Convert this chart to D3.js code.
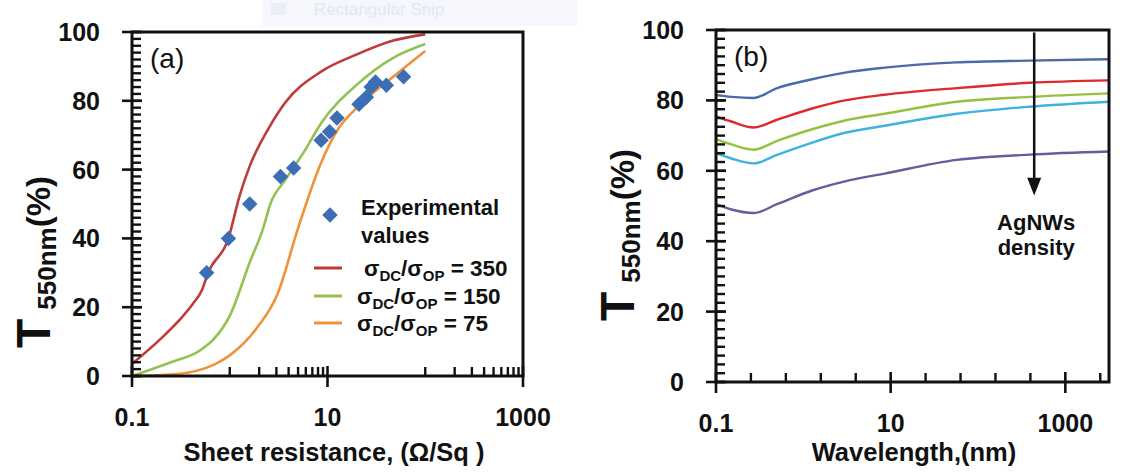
<!DOCTYPE html>
<html>
<head>
<meta charset="utf-8">
<script src="https://cdn.jsdelivr.net/npm/d3@7"></script>
<style>
  body { margin: 0; background: #fff; }
  svg { display: block; }
  text { font-family: "Liberation Sans", Arial, sans-serif; fill: #111; }
</style>
</head>
<body>
<div id="chart"></div>
<script>
// ---- panel (a): transmittance vs sheet resistance ----
const expResistance = [0.58, 0.97, 1.6, 3.3, 4.5, 8.6, 10.5, 12.5, 21, 25, 28, 31, 40, 60];
const expTransmit   = [30, 40, 50, 58, 60.5, 68.5, 71, 75, 79, 81, 84, 85.5, 84.5, 87];

const fit350Resistance = [0.1, 0.2, 0.3, 0.42, 0.52, 0.6, 0.97, 1.25, 1.6, 2.5, 3.7, 8.6, 20, 47, 100];
const fit350Transmit   = [3.5, 11, 16, 21, 25, 30, 40, 52, 61, 72, 79.5, 88.5, 93.5, 97.5, 99.3];
const fit150Resistance = [0.1, 0.25, 0.5, 0.7, 1, 1.6, 2.2, 2.6, 3.7, 5.7, 8.6, 20, 47, 100];
const fit150Transmit   = [0, 4, 7.5, 11, 17.5, 33, 43, 50, 57, 65, 73.5, 84.7, 92.5, 96.5];
const fit75Resistance  = [0.1, 0.27, 0.7, 1, 1.9, 3.1, 5, 8.6, 13, 20, 47, 100];
const fit75Transmit    = [0, 0.5, 3.4, 6, 14, 24, 43, 62, 72, 78, 87, 94.5];

// ---- panel (b): transmittance spectra, one per AgNW density ----
const wavelengths = [0.1, 0.15, 0.27, 0.5, 1.26, 3, 8.5, 57, 389, 3162];
const specBlue    = [81.5, 81, 80.7, 83.5, 86, 87.9, 89.3, 90.8, 91.3, 91.7];
const specRed     = [75.5, 74, 72.3, 74.5, 77.7, 80, 81.6, 83.5, 85, 85.7];
const specGreen   = [69, 67.5, 66, 68.5, 71.8, 74.3, 76.2, 79.6, 81, 82];
const specCyan    = [65, 63.5, 62.1, 64.5, 68, 70.8, 72.8, 76.2, 78.2, 79.6];
const specPurple  = [50.5, 49, 48, 50.5, 54.4, 57, 59.2, 63.1, 64.6, 65.5];

// ---- ticks ----
const yMajorTicks = [0, 20, 40, 60, 80, 100];
const xMajorTicks = [0.1, 10, 1000];
const xTickLabels = ['0.1', '10', '1000'];
const xMinorTicksA = [1, 2, 3, 4, 5, 6, 7, 8, 9, 100, 200, 300, 400, 500, 600, 700, 800, 900];
const xMinorTicksB = [0.251, 0.631, 1.585, 3.981, 25.12, 63.1, 158.5, 398.1, 2512];

const W = 1126, H = 473;
const svg = d3.select('#chart').append('svg').attr('width', W).attr('height', H);

// faint screen-capture tooltip left in the original image
svg.append('rect').attr('x', 262).attr('y', 0).attr('width', 315).attr('height', 26).attr('fill', '#f5f7fc');
svg.append('rect').attr('x', 271).attr('y', 3).attr('width', 15).attr('height', 12).attr('fill', '#eaeef6');
svg.append('text').attr('x', 314).attr('y', 15).style('font-size', '17px').style('fill', '#e3e7ef').text('Rectangular Snip');

function zip(xs, ys) { return xs.map((x, i) => [x, ys[i]]); }

// one <line> per tick
function tickLines(g, data, fn, width) {
  const tg = g.append('g');
  data.forEach(d => {
    const [x1, y1, x2, y2] = fn(d);
    tg.append('line')
      .attr('x1', x1).attr('y1', y1).attr('x2', x2).attr('y2', y2)
      .attr('stroke', '#111').attr('stroke-width', width);
  });
}

function drawFrame(g, x, y, cfg) {
  const [l, r] = x.range();
  const [b, t] = y.range();
  g.append('path')
    .attr('d', `M${l},${b}L${l},${t}L${r},${t}L${r},${b}Z`)
    .attr('fill', 'none').attr('stroke', '#111').attr('stroke-width', 3);

  // y ticks
  tickLines(g, cfg.yMinor, d => [l, y(d), l + 9, y(d)], 2.4);
  tickLines(g, yMajorTicks, d => [l - 10, y(d), l + 10, y(d)], 2.6);
  g.append('g').selectAll('text').data(yMajorTicks).join('text')
    .attr('x', l - 32).attr('y', d => y(d)).attr('dy', '0.36em')
    .attr('text-anchor', 'end')
    .style('font-size', '25px').style('font-weight', 'bold')
    .text(d => d);

  // x ticks
  tickLines(g, cfg.xMinor, d => [x(d), b, x(d), b - 9], 2.4);
  tickLines(g, xMajorTicks, d => [x(d), b - 10, x(d), b + 11], 2.6);
  g.append('g').selectAll('text').data(xMajorTicks).join('text')
    .attr('x', d => x(d)).attr('y', b + 50)
    .attr('text-anchor', 'middle')
    .style('font-size', '25px').style('font-weight', 'bold')
    .text((d, i) => xTickLabels[i]);

  // axis title
  g.append('text').attr('x', cfg.titleX).attr('y', 461)
    .attr('text-anchor', 'middle')
    .style('font-size', '25.5px').style('font-weight', 'bold')
    .text(cfg.xTitle);

  // y title: T 550nm (%)
  const yt = g.append('text')
    .attr('transform', `translate(${cfg.yTitleX},${cfg.yTitleY}) rotate(-90)`)
    .attr('text-anchor', 'middle').style('font-weight', 'bold');
  yt.append('tspan').style('font-size', '48px').text('T');
  yt.append('tspan').attr('dx', 9).attr('dy', 6).style('font-size', '26px').text('550nm');
  yt.append('tspan').attr('dy', -6).style('font-size', '33px').text('(%)');

  // panel letter
  g.append('text').attr('x', l + 18).attr('y', t + 36)
    .style('font-size', '28px').text(cfg.letter);
}

const line = (x, y) => d3.line().x(d => x(d[0])).y(d => y(d[1])).curve(d3.curveMonotoneX);

// ---------- panel (a) ----------
const xA = d3.scaleLog().domain([0.1, 1000]).range([132, 523]);
const yA = d3.scaleLinear().domain([0, 100]).range([376, 32]);
const gA = svg.append('g');

const fitsA = [
  { pts: zip(fit350Resistance, fit350Transmit), color: '#bf3a3a', label: '350', ly: 268 },
  { pts: zip(fit150Resistance, fit150Transmit), color: '#93c153', label: '150', ly: 296 },
  { pts: zip(fit75Resistance, fit75Transmit), color: '#f0923b', label: '75', ly: 323 }
];
gA.append('g').selectAll('path').data(fitsA).join('path')
  .attr('d', d => line(xA, yA)(d.pts))
  .attr('fill', 'none').attr('stroke', d => d.color).attr('stroke-width', 2.6);

const diamond = d3.symbol(d3.symbolSquare, 120);
gA.append('g').selectAll('path').data(zip(expResistance, expTransmit)).join('path')
  .attr('d', diamond)
  .attr('transform', d => `translate(${xA(d[0])},${yA(d[1])}) rotate(45)`)
  .attr('fill', '#3d6eb5');

drawFrame(gA, xA, yA, {
  yMinor: d3.range(0, 101, 2), xMinor: xMinorTicksA,
  xTitle: 'Sheet resistance, (\u03A9/Sq )', titleX: 334,
  yTitleX: 50, yTitleY: 262, letter: '(a)'
});

// legend (a)
gA.append('path').attr('d', diamond).attr('transform', 'translate(330,215) rotate(45)').attr('fill', '#3d6eb5');
gA.append('text').attr('x', 361).attr('y', 215).style('font-size', '22px').style('font-weight', 'bold').text('Experimental');
gA.append('text').attr('x', 361).attr('y', 243).style('font-size', '22px').style('font-weight', 'bold').text('values');
fitsA.forEach((f, i) => {
  gA.append('line').attr('x1', 314).attr('x2', 342).attr('y1', f.ly).attr('y2', f.ly)
    .attr('stroke', f.color).attr('stroke-width', 3);
  const t = gA.append('text').attr('x', i === 0 ? 364 : 357).attr('y', f.ly + 8)
    .style('font-size', '22.5px').style('font-weight', 'bold');
  t.append('tspan').text('\u03C3');
  t.append('tspan').attr('dy', 5).style('font-size', '15px').text('DC');
  t.append('tspan').attr('dy', -5).text('/\u03C3');
  t.append('tspan').attr('dy', 5).style('font-size', '15px').text('OP');
  t.append('tspan').attr('dy', -5).text(' = ' + f.label);
});

// ---------- panel (b) ----------
const xB = d3.scaleLog().domain([0.1, Math.pow(10, 3.5)]).range([716, 1109]);
const yB = d3.scaleLinear().domain([0, 100]).range([382, 30]);
const gB = svg.append('g');

const spectra = [
  { vals: specBlue, color: '#4a6aa8' },
  { vals: specRed, color: '#de2a2c' },
  { vals: specGreen, color: '#96c140' },
  { vals: specCyan, color: '#3db3dd' },
  { vals: specPurple, color: '#6a5b9c' }
];
gB.append('g').selectAll('path').data(spectra).join('path')
  .attr('d', d => line(xB, yB)(zip(wavelengths, d.vals)))
  .attr('fill', 'none').attr('stroke', d => d.color).attr('stroke-width', 2.4);

drawFrame(gB, xB, yB, {
  yMinor: d3.range(0, 101, 2.5), xMinor: xMinorTicksB,
  xTitle: 'Wavelength,(nm)', titleX: 914,
  yTitleX: 634, yTitleY: 235, letter: '(b)'
});

// density arrow
const arrowX = 440;
gB.append('line').attr('x1', xB(arrowX)).attr('x2', xB(arrowX))
  .attr('y1', yB(99.3)).attr('y2', yB(57))
  .attr('stroke', '#111').attr('stroke-width', 2.5);
gB.append('path')
  .attr('d', `M${xB(arrowX) - 7},${yB(58)}L${xB(arrowX) + 7},${yB(58)}L${xB(arrowX)},${yB(53)}Z`)
  .attr('fill', '#111');
gB.append('text').attr('x', xB(arrowX) + 2).attr('y', 230).attr('text-anchor', 'middle')
  .style('font-size', '22px').style('font-weight', 'bold').text('AgNWs');
gB.append('text').attr('x', xB(arrowX) + 2).attr('y', 255).attr('text-anchor', 'middle')
  .style('font-size', '22px').style('font-weight', 'bold').text('density');
</script>
</body>
</html>
